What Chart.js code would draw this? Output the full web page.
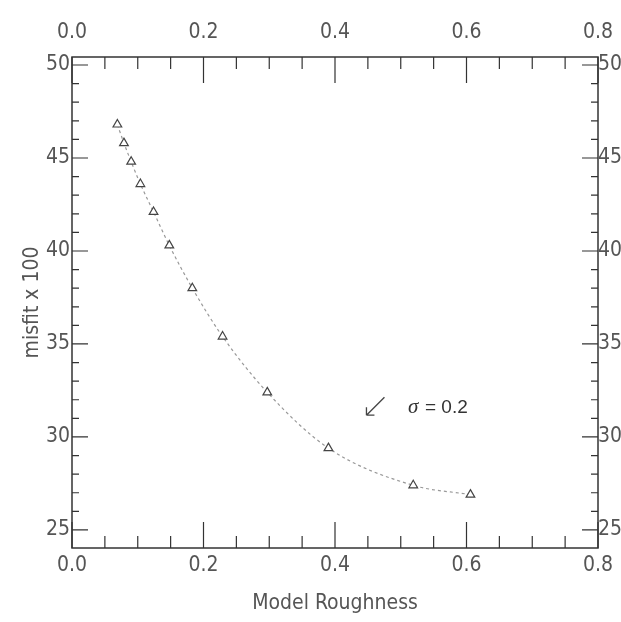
<!DOCTYPE html>
<html>
<head>
<meta charset="utf-8">
<script src="https://cdn.jsdelivr.net/npm/chart.js@4"></script>
<style>
  html, body { margin: 0; padding: 0; background: #fff; }
  #wrap { width: 621px; height: 622px; }
</style>
</head>
<body>
<div id="wrap"><canvas id="chart" width="621" height="622"></canvas></div>
<script>
// values
const roughness = [0.069, 0.079, 0.090, 0.104, 0.124, 0.148, 0.183, 0.229, 0.297, 0.390, 0.519, 0.606];
const misfit = [46.8, 45.8, 44.8, 43.6, 42.1, 40.3, 38.0, 35.4, 32.4, 29.4, 27.4, 26.9];
const xTicks = [0, 0.2, 0.4, 0.6, 0.8];
const yTicks = [25, 30, 35, 40, 45, 50];
const xMinor = [0.05, 0.1, 0.15, 0.25, 0.3, 0.35, 0.45, 0.5, 0.55, 0.65, 0.7, 0.75];
const yMinor = [26, 27, 28, 29, 31, 32, 33, 34, 36, 37, 38, 39, 41, 42, 43, 44, 46, 47, 48, 49];

const family = "'Liberation Sans Narrow', 'DejaVu Sans Condensed', 'Liberation Sans', sans-serif";
const tickFont = { family: family, size: 21 };
const ink = "#555";

const frame = {
  id: "frame",
  afterDraw(chart) {
    const ctx = chart.ctx;
    const a = chart.chartArea;
    const x = chart.scales.x;
    const y = chart.scales.y;
    ctx.save();
    ctx.strokeStyle = "#333";
    ctx.lineWidth = 1.5;
    ctx.strokeRect(a.left, a.top, a.right - a.left, a.bottom - a.top);

    const tick = (px, len, vertical) => {
      ctx.beginPath();
      if (vertical) {
        ctx.moveTo(px, a.bottom); ctx.lineTo(px, a.bottom - len);
        ctx.moveTo(px, a.top); ctx.lineTo(px, a.top + len);
      } else {
        ctx.moveTo(a.left, px); ctx.lineTo(a.left + len, px);
        ctx.moveTo(a.right, px); ctx.lineTo(a.right - len, px);
      }
      ctx.stroke();
    };
    ctx.lineWidth = 1.2;
    xTicks.forEach(v => tick(x.getPixelForValue(v), 26, true));
    xMinor.forEach(v => tick(x.getPixelForValue(v), 12, true));
    yTicks.forEach(v => tick(y.getPixelForValue(v), 16, false));
    yMinor.forEach(v => tick(y.getPixelForValue(v), 7, false));

    // sigma note with arrow
    const ax = x.getPixelForValue(0.46);
    const ay = y.getPixelForValue(31.6);
    ctx.strokeStyle = "#444";
    ctx.lineWidth = 1.3;
    ctx.beginPath();
    ctx.moveTo(ax + 10, ay - 10);
    ctx.lineTo(ax - 8, ay + 8);
    ctx.moveTo(ax - 8, ay + 8);
    ctx.lineTo(ax - 8, ay);
    ctx.moveTo(ax - 8, ay + 8);
    ctx.lineTo(ax, ay + 8);
    ctx.stroke();
    ctx.fillStyle = "#333";
    ctx.textBaseline = "middle";
    ctx.font = "italic 21px 'Liberation Serif', serif";
    const sx = x.getPixelForValue(0.511);
    ctx.fillText("σ", sx, ay);
    ctx.font = "19px 'Liberation Sans', sans-serif";
    ctx.fillText("= 0.2", sx + 17, ay + 1);
    ctx.restore();
  }
};

const ctx = document.getElementById("chart").getContext("2d");

new Chart(ctx, {
  type: "line",
  data: {
    datasets: [{
      label: "misfit",
      data: roughness.map((r, i) => ({ x: r, y: misfit[i] })),
      borderColor: "#999",
      borderWidth: 1.2,
      borderDash: [3, 3],
      cubicInterpolationMode: "monotone",
      pointStyle: "triangle",
      pointRadius: 5,
      pointBorderWidth: 1.2,
      pointBorderColor: "#444",
      pointBackgroundColor: "#fff",
      fill: false
    }]
  },
  options: {
    responsive: false,
    animation: false,
    layout: { padding: 0 },
    plugins: { legend: { display: false }, tooltip: { enabled: false } },
    scales: {
      x: {
        type: "linear", position: "bottom", min: 0, max: 0.8,
        afterBuildTicks: s => { s.ticks = xTicks.map(v => ({ value: v })); },
        afterFit: s => { s.height = 74; s.paddingLeft = 0; s.paddingRight = 0; },
        grid: { display: false, drawTicks: false },
        border: { display: false },
        ticks: { font: tickFont, color: ink, padding: 5, callback: v => v.toFixed(1) },
        title: { display: true, text: "Model Roughness", color: ink, font: { family: family, size: 21 }, padding: { top: 2, bottom: 6 } }
      },
      x2: {
        type: "linear", position: "top", min: 0, max: 0.8,
        afterBuildTicks: s => { s.ticks = xTicks.map(v => ({ value: v })); },
        afterFit: s => { s.height = 57; s.paddingLeft = 0; s.paddingRight = 0; },
        grid: { display: false, drawTicks: false },
        border: { display: false },
        ticks: { font: tickFont, color: ink, padding: 12, callback: v => v.toFixed(1) }
      },
      y: {
        type: "linear", position: "left", min: 24.03, max: 50.43,
        afterBuildTicks: s => { s.ticks = yTicks.map(v => ({ value: v })); },
        afterFit: s => { s.width = 72; },
        grid: { display: false, drawTicks: false },
        border: { display: false },
        ticks: { font: tickFont, color: ink, padding: 2 },
        title: { display: true, text: "misfit x 100", color: ink, font: { family: family, size: 21 }, padding: { top: 20, bottom: 0 } }
      },
      y2: {
        type: "linear", position: "right", min: 24.03, max: 50.43,
        afterBuildTicks: s => { s.ticks = yTicks.map(v => ({ value: v })); },
        afterFit: s => { s.width = 23; },
        grid: { display: false, drawTicks: false },
        border: { display: false },
        ticks: { font: tickFont, color: ink, padding: 0 }
      }
    }
  },
  plugins: [frame]
});
</script>
</body>
</html>
